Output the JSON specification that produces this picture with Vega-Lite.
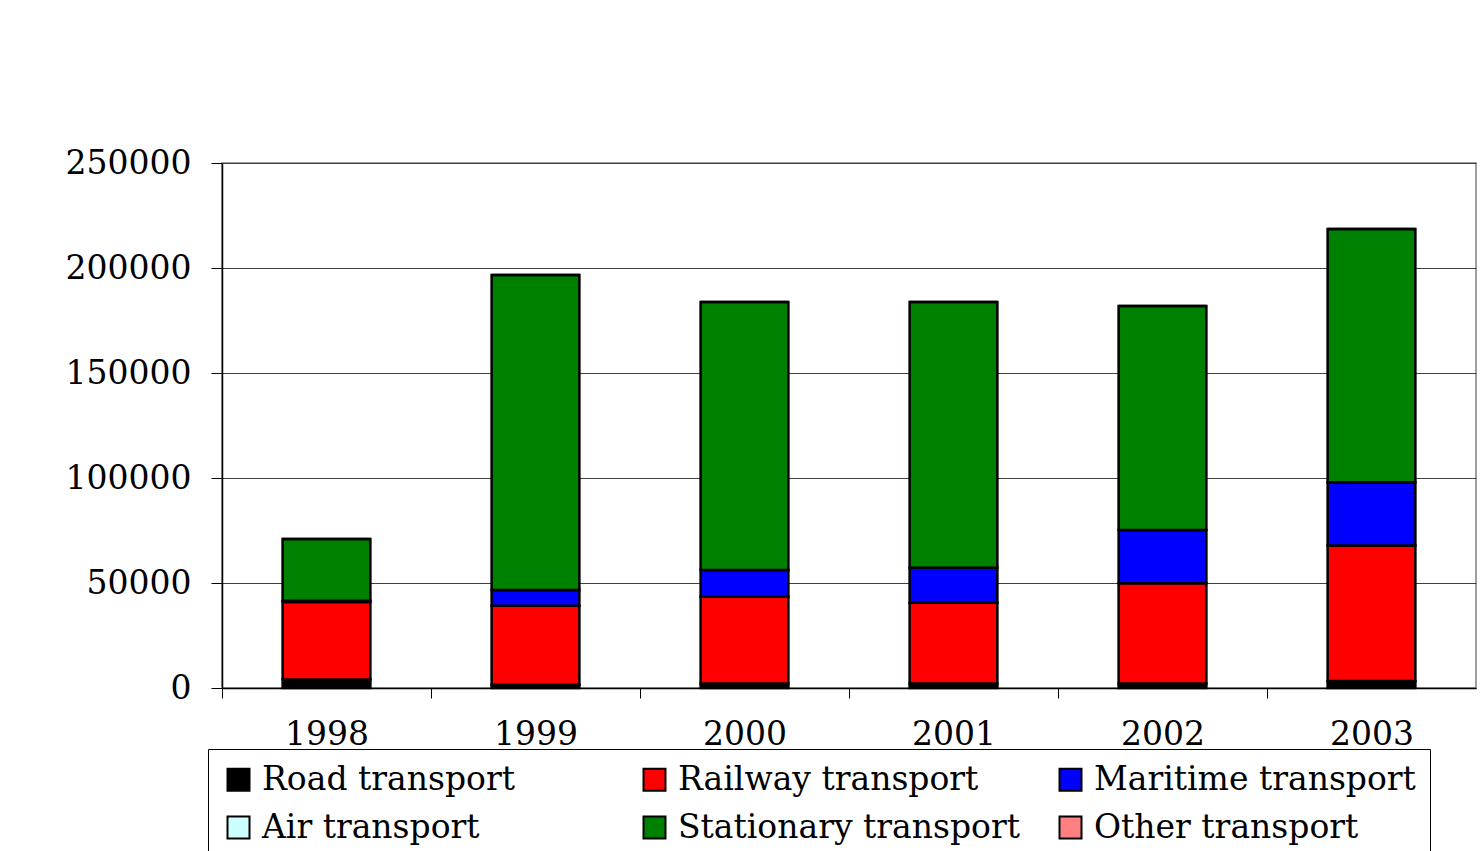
{
  "$schema": "https://vega.github.io/schema/vega-lite/v6.json",
  "autosize": {"type": "none"},
  "width": 1254,
  "height": 525,
  "padding": {"left": 222, "top": 163, "right": 5, "bottom": 163},
  "background": "white",
  "config": {
    "font": "DejaVu Serif",
    "view": {"stroke": "#808080", "strokeWidth": 1.5},
    "axis": {"labelFont": "DejaVu Serif", "labelColor": "black"}
  },
  "data": {
    "values": [
      {"year": "1998", "type": "Road transport", "k": 1, "value": 4000},
      {"year": "1998", "type": "Railway transport", "k": 2, "value": 37000},
      {"year": "1998", "type": "Maritime transport", "k": 3, "value": 600},
      {"year": "1998", "type": "Air transport", "k": 4, "value": 0},
      {"year": "1998", "type": "Stationary transport", "k": 5, "value": 29400},
      {"year": "1998", "type": "Other transport", "k": 6, "value": 0},
      {"year": "1999", "type": "Road transport", "k": 1, "value": 1500},
      {"year": "1999", "type": "Railway transport", "k": 2, "value": 37700},
      {"year": "1999", "type": "Maritime transport", "k": 3, "value": 7500},
      {"year": "1999", "type": "Air transport", "k": 4, "value": 0},
      {"year": "1999", "type": "Stationary transport", "k": 5, "value": 150000},
      {"year": "1999", "type": "Other transport", "k": 6, "value": 0},
      {"year": "2000", "type": "Road transport", "k": 1, "value": 2200},
      {"year": "2000", "type": "Railway transport", "k": 2, "value": 41300},
      {"year": "2000", "type": "Maritime transport", "k": 3, "value": 12700},
      {"year": "2000", "type": "Air transport", "k": 4, "value": 0},
      {"year": "2000", "type": "Stationary transport", "k": 5, "value": 127600},
      {"year": "2000", "type": "Other transport", "k": 6, "value": 0},
      {"year": "2001", "type": "Road transport", "k": 1, "value": 2200},
      {"year": "2001", "type": "Railway transport", "k": 2, "value": 38400},
      {"year": "2001", "type": "Maritime transport", "k": 3, "value": 16700},
      {"year": "2001", "type": "Air transport", "k": 4, "value": 0},
      {"year": "2001", "type": "Stationary transport", "k": 5, "value": 126500},
      {"year": "2001", "type": "Other transport", "k": 6, "value": 0},
      {"year": "2002", "type": "Road transport", "k": 1, "value": 2200},
      {"year": "2002", "type": "Railway transport", "k": 2, "value": 47700},
      {"year": "2002", "type": "Maritime transport", "k": 3, "value": 25300},
      {"year": "2002", "type": "Air transport", "k": 4, "value": 0},
      {"year": "2002", "type": "Stationary transport", "k": 5, "value": 106700},
      {"year": "2002", "type": "Other transport", "k": 6, "value": 0},
      {"year": "2003", "type": "Road transport", "k": 1, "value": 3300},
      {"year": "2003", "type": "Railway transport", "k": 2, "value": 64500},
      {"year": "2003", "type": "Maritime transport", "k": 3, "value": 30200},
      {"year": "2003", "type": "Air transport", "k": 4, "value": 0},
      {"year": "2003", "type": "Stationary transport", "k": 5, "value": 120600},
      {"year": "2003", "type": "Other transport", "k": 6, "value": 0}
    ]
  },
  "mark": {"type": "bar", "stroke": "black", "strokeWidth": 2.5},
  "encoding": {
    "x": {
      "field": "year",
      "type": "nominal",
      "scale": {"paddingInner": 0.58, "paddingOuter": 0.29},
      "axis": {
        "title": null,
        "labelAngle": 0,
        "labelFontSize": 33,
        "labelPadding": 20,
        "tickOffset": -104.5,
        "labelOffset": 104.5,
        "tickSize": 10,
        "tickColor": "black",
        "domainColor": "black",
        "domainWidth": 1.5,
        "grid": false
      }
    },
    "y": {
      "field": "value",
      "type": "quantitative",
      "aggregate": "sum",
      "stack": "zero",
      "scale": {"domain": [0, 250000], "nice": false},
      "axis": {
        "title": null,
        "values": [0, 50000, 100000, 150000, 200000, 250000],
        "format": "d",
        "labelFontSize": 33,
        "labelPadding": 20,
        "tickSize": 11,
        "tickColor": "black",
        "domainColor": "black",
        "domainWidth": 1.5,
        "gridColor": "#404040",
        "gridWidth": 1
      }
    },
    "color": {
      "field": "type",
      "type": "nominal",
      "scale": {
        "domain": ["Road transport", "Air transport", "Railway transport", "Stationary transport", "Maritime transport", "Other transport"],
        "range": ["#000000", "#ccffff", "#ff0000", "#008000", "#0000ff", "#ff8080"]
      },
      "legend": {
        "title": null,
        "orient": "none",
        "legendX": -14,
        "legendY": 586,
        "columns": 3,
        "gridAlign": "all",
        "columnPadding": 34,
        "rowPadding": 14,
        "padding": 14,
        "strokeColor": "black",
        "fillColor": "white",
        "symbolType": "square",
        "symbolSize": 484,
        "symbolStrokeColor": "black",
        "symbolStrokeWidth": 2,
        "symbolOpacity": 1,
        "labelFont": "DejaVu Serif",
        "labelFontSize": 33,
        "labelColor": "black",
        "labelOffset": 7,
        "labelLimit": 450
      }
    },
    "order": {"field": "k", "type": "quantitative", "sort": "ascending"}
  }
}
